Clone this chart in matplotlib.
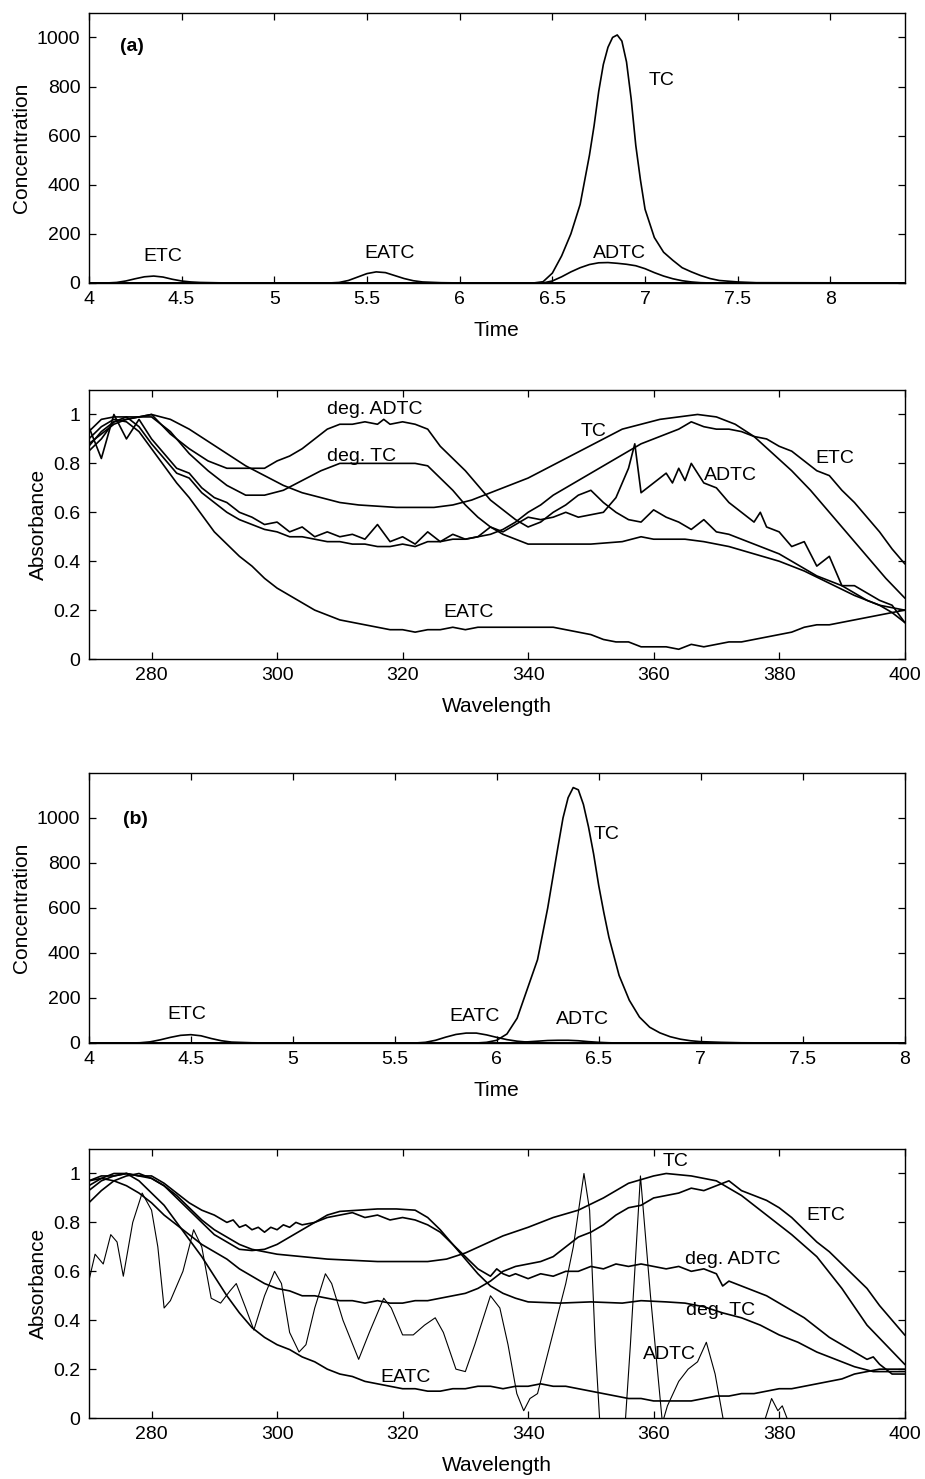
import numpy as np
import matplotlib
matplotlib.use("Agg")
import matplotlib.pyplot as plt
from matplotlib.ticker import FuncFormatter

plt.rcParams['font.family'] = ['Liberation Sans', 'DejaVu Sans']

# ---------------------------------------------------------------- (a) elution profiles
t_etc_a = [4.0, 4.1, 4.15, 4.2, 4.25, 4.3, 4.35, 4.4, 4.45, 4.5, 4.55, 4.6, 4.7, 4.8, 8.4]
c_etc_a = [0, 0, 2, 8, 17, 25, 28, 24, 15, 8, 4, 2, 0.5, 0, 0]
t_eatc_a = [4.0, 5.3, 5.35, 5.4, 5.45, 5.5, 5.55, 5.6, 5.65, 5.7, 5.75, 5.8, 5.9, 6.0, 8.4]
c_eatc_a = [0, 0, 2, 10, 24, 38, 45, 42, 30, 18, 9, 4, 1, 0, 0]
t_tc_a = [4.0, 6.4, 6.45, 6.5, 6.55, 6.6, 6.65, 6.7, 6.725, 6.75, 6.775, 6.8, 6.825, 6.85,
          6.875, 6.9, 6.925, 6.95, 6.975, 7.0, 7.05, 7.1, 7.15, 7.2, 7.25, 7.3, 7.35, 7.4,
          7.5, 7.6, 8.4]
c_tc_a = [0, 0, 5, 40, 110, 200, 320, 520, 640, 780, 890, 960, 1000, 1010,
          985, 900, 750, 560, 420, 300, 185, 125, 92, 62, 45, 30, 18, 10,
          4, 1, 0]
t_adtc_a = [4.0, 6.45, 6.5, 6.55, 6.6, 6.65, 6.7, 6.75, 6.8, 6.85, 6.9, 6.95, 7.0,
            7.05, 7.1, 7.15, 7.2, 7.25, 7.3, 7.35, 8.4]
c_adtc_a = [0, 0, 8, 25, 45, 62, 75, 82, 83, 80, 76, 70, 58,
            42, 28, 17, 9, 4, 1, 0, 0]

# ---------------------------------------------------------------- (a) spectra
wl_tc_a = [270, 272, 274, 276, 278, 280, 283, 286, 289, 292, 295, 298, 301, 304, 307, 310,
           313, 316, 319, 322, 325, 328, 331, 334, 337, 340, 343, 346, 349, 352, 355, 358,
           361, 364, 367, 370, 373, 376, 379, 382, 385, 388, 391, 394, 397, 400]
ab_tc_a = [0.88, 0.92, 0.96, 0.98, 0.99, 1.0, 0.98, 0.94, 0.89, 0.84, 0.79, 0.75, 0.71, 0.68,
           0.66, 0.64, 0.63, 0.625, 0.62, 0.62, 0.62, 0.63, 0.65, 0.68, 0.71, 0.74, 0.78, 0.82,
           0.86, 0.9, 0.94, 0.96, 0.98, 0.99, 1.0, 0.99, 0.96, 0.91, 0.84, 0.77, 0.69, 0.6,
           0.51, 0.42, 0.33, 0.25]

wl_etc_a = list(range(270, 402, 2))
ab_etc_a = [0.85, 0.9, 0.97, 0.99, 0.95, 0.88, 0.82, 0.76, 0.74, 0.68, 0.64, 0.6, 0.57, 0.55,
            0.53, 0.52, 0.5, 0.5, 0.49, 0.48, 0.48, 0.47, 0.47, 0.46, 0.46, 0.47, 0.46, 0.48,
            0.48, 0.49, 0.49, 0.5, 0.51, 0.53, 0.56, 0.6, 0.63, 0.67, 0.7, 0.73, 0.76, 0.79,
            0.82, 0.85, 0.88, 0.9, 0.92, 0.94, 0.97, 0.95, 0.94, 0.94, 0.93, 0.91, 0.9, 0.87,
            0.85, 0.81, 0.77, 0.75, 0.69, 0.64, 0.58, 0.52, 0.45, 0.39]

wl_adtc_a = [270, 272, 274, 276, 278, 280, 282, 284, 286, 288, 290, 292, 294, 296, 298, 300,
             302, 304, 306, 308, 310, 312, 314, 316, 318, 320, 322, 324, 326, 328, 330, 332,
             334, 336, 338, 340, 342, 344, 346, 348, 350, 352, 354, 356, 357, 358, 360, 362,
             363, 364, 365, 366, 368, 370, 372, 374, 376, 377, 378, 380, 382, 384, 386, 388,
             390, 392, 394, 396, 398, 400]
ab_adtc_a = [0.95, 0.82, 1.0, 0.9, 0.98, 0.9, 0.84, 0.78, 0.76, 0.7, 0.66, 0.64, 0.6, 0.58,
             0.55, 0.56, 0.52, 0.54, 0.5, 0.52, 0.5, 0.51, 0.49, 0.55, 0.48, 0.5, 0.47, 0.52,
             0.48, 0.51, 0.49, 0.5, 0.54, 0.52, 0.55, 0.58, 0.57, 0.58, 0.6, 0.58, 0.59, 0.6,
             0.66, 0.78, 0.88, 0.68, 0.72, 0.76, 0.72, 0.78, 0.73, 0.8, 0.72, 0.7, 0.64, 0.6,
             0.56, 0.6, 0.54, 0.52, 0.46, 0.48, 0.38, 0.42, 0.3, 0.3, 0.27, 0.24, 0.22, 0.15]

wl_dadtc_a = [270, 272, 274, 276, 278, 280, 283, 286, 289, 292, 296, 298, 300, 302, 304, 306,
              308, 310, 312, 314, 316, 317, 318, 320, 322, 324, 326, 328, 330, 332, 334, 336,
              338, 340, 342, 344, 346, 348, 350, 352, 354, 356, 358, 360, 362, 364, 366, 368,
              370, 372, 374, 376, 378, 380, 382, 384, 386, 388, 390, 392, 394, 396, 398, 400]
ab_dadtc_a = [0.93, 0.98, 0.99, 0.99, 0.99, 1.0, 0.92, 0.86, 0.81, 0.78, 0.78, 0.78, 0.81,
              0.83, 0.86, 0.9, 0.94, 0.96, 0.96, 0.97, 0.96, 0.98, 0.96, 0.97, 0.96, 0.94,
              0.87, 0.82, 0.77, 0.71, 0.65, 0.61, 0.57, 0.54, 0.56, 0.6, 0.63, 0.67, 0.69,
              0.64, 0.6, 0.57, 0.56, 0.61, 0.58, 0.56, 0.53, 0.57, 0.52, 0.51, 0.49, 0.47,
              0.45, 0.43, 0.4, 0.37, 0.34, 0.32, 0.3, 0.27, 0.24, 0.22, 0.19, 0.15]

wl_dtc_a = [270, 272, 274, 276, 278, 280, 283, 286, 289, 292, 295, 298, 301, 304, 307, 310,
            313, 316, 319, 322, 324, 326, 328, 330, 332, 334, 336, 338, 340, 345, 350, 355,
            358, 360, 365, 368, 372, 376, 380, 384, 388, 392, 396, 400]
ab_dtc_a = [0.87, 0.93, 0.97, 0.98, 0.99, 0.99, 0.93, 0.84, 0.77, 0.71, 0.67, 0.67, 0.69,
            0.73, 0.77, 0.8, 0.8, 0.8, 0.8, 0.8, 0.79, 0.74, 0.69, 0.63, 0.58, 0.54, 0.51,
            0.49, 0.47, 0.47, 0.47, 0.48, 0.5, 0.49, 0.49, 0.48, 0.46, 0.43, 0.4, 0.36, 0.31,
            0.26, 0.22, 0.2]

wl_eatc_a = list(range(270, 402, 2))
ab_eatc_a = [0.9, 0.95, 0.98, 0.97, 0.93, 0.86, 0.79, 0.72, 0.66, 0.59, 0.52, 0.47, 0.42,
             0.38, 0.33, 0.29, 0.26, 0.23, 0.2, 0.18, 0.16, 0.15, 0.14, 0.13, 0.12, 0.12,
             0.11, 0.12, 0.12, 0.13, 0.12, 0.13, 0.13, 0.13, 0.13, 0.13, 0.13, 0.13, 0.12,
             0.11, 0.1, 0.08, 0.07, 0.07, 0.05, 0.05, 0.05, 0.04, 0.06, 0.05, 0.06, 0.07,
             0.07, 0.08, 0.09, 0.1, 0.11, 0.13, 0.14, 0.14, 0.15, 0.16, 0.17, 0.18, 0.19, 0.2]

# ---------------------------------------------------------------- (b) elution profiles
t_etc_b = [4.0, 4.2, 4.25, 4.3, 4.35, 4.4, 4.45, 4.5, 4.55, 4.6, 4.65, 4.7, 4.8, 4.9, 8.0]
c_etc_b = [0, 0, 1, 5, 14, 25, 34, 37, 32, 20, 10, 4, 1, 0, 0]
t_eatc_b = [4.0, 5.6, 5.65, 5.7, 5.75, 5.8, 5.85, 5.9, 5.95, 6.0, 6.05, 6.1, 6.15, 6.2, 6.3, 8.0]
c_eatc_b = [0, 0, 3, 12, 26, 38, 44, 44, 36, 25, 15, 8, 4, 1, 0, 0]
t_tc_b = [4.0, 5.9, 5.95, 6.0, 6.05, 6.1, 6.15, 6.2, 6.25, 6.3, 6.325, 6.35, 6.375, 6.4,
          6.425, 6.45, 6.475, 6.5, 6.525, 6.55, 6.6, 6.65, 6.7, 6.75, 6.8, 6.85, 6.9, 6.95,
          7.0, 7.1, 7.2, 7.4, 8.0]
c_tc_b = [0, 0, 3, 12, 40, 110, 240, 370, 600, 870, 1000, 1090, 1135, 1125,
          1060, 960, 840, 700, 580, 470, 300, 190, 115, 70, 45, 28, 17, 10,
          6, 3, 1, 0, 0]
t_adtc_b = [4.0, 6.05, 6.1, 6.15, 6.2, 6.25, 6.3, 6.35, 6.4, 6.45, 6.5, 6.55, 6.6, 8.0]
c_adtc_b = [0, 0, 2, 5, 8, 11, 12, 12, 10, 6, 3, 1, 0, 0]

# ---------------------------------------------------------------- (b) spectra
wl_tc_b = [270, 272, 274, 276, 278, 280, 282, 284, 286, 288, 290, 292, 294, 296, 298, 300,
           304, 308, 312, 316, 320, 324, 327, 330, 333, 336, 340, 344, 348, 352, 356, 360,
           362, 366, 370, 374, 378, 382, 386, 390, 394, 397, 400]
ab_tc_b = [0.88, 0.93, 0.97, 0.99, 1.0, 0.98, 0.95, 0.91, 0.86, 0.81, 0.77, 0.74, 0.71, 0.69,
           0.68, 0.67, 0.66, 0.65, 0.645, 0.64, 0.64, 0.64, 0.65, 0.675, 0.71, 0.745, 0.78,
           0.82, 0.85, 0.9, 0.96, 0.99, 1.0, 0.99, 0.97, 0.91, 0.83, 0.75, 0.66, 0.53, 0.38,
           0.3, 0.22]

wl_etc_b = list(range(270, 402, 2))
ab_etc_b = [0.97, 0.98, 0.97, 0.95, 0.92, 0.88, 0.83, 0.79, 0.75, 0.71, 0.68, 0.65, 0.61,
            0.58, 0.55, 0.53, 0.52, 0.5, 0.5, 0.49, 0.48, 0.48, 0.47, 0.48, 0.47, 0.47, 0.48,
            0.48, 0.49, 0.5, 0.51, 0.53, 0.56, 0.6, 0.62, 0.63, 0.64, 0.66, 0.7, 0.74, 0.76,
            0.79, 0.83, 0.86, 0.87, 0.9, 0.91, 0.92, 0.94, 0.93, 0.95, 0.97, 0.93, 0.91, 0.89,
            0.86, 0.82, 0.77, 0.72, 0.68, 0.63, 0.58, 0.53, 0.46, 0.4, 0.34]

wl_dtc_b = [270, 272, 274, 276, 278, 280, 282, 284, 286, 288, 290, 292, 294, 296, 298, 300,
            302, 304, 306, 308, 310, 313, 316, 319, 322, 324, 326, 328, 330, 332, 334, 336,
            338, 340, 345, 350, 355, 358, 362, 365, 368, 371, 374, 377, 380, 383, 386, 389,
            392, 395, 398, 400]
ab_dtc_b = [0.95, 0.98, 1.0, 1.0, 0.99, 0.98, 0.95, 0.9, 0.85, 0.8, 0.75, 0.72, 0.69, 0.685,
            0.69, 0.71, 0.74, 0.77, 0.8, 0.83, 0.845, 0.85, 0.855, 0.855, 0.85, 0.82, 0.77,
            0.71, 0.65, 0.59, 0.54, 0.51, 0.49, 0.475, 0.47, 0.475, 0.47, 0.48, 0.475, 0.47,
            0.455, 0.43, 0.41, 0.38, 0.34, 0.31, 0.27, 0.24, 0.21, 0.19, 0.19, 0.19]

wl_dadtc_b = [270, 272, 274, 276, 278, 280, 282, 284, 286, 288, 290, 292, 293, 294, 295, 296,
              297, 298, 299, 300, 301, 302, 303, 304, 306, 308, 310, 312, 314, 316, 318, 320,
              322, 324, 326, 328, 330, 332, 334, 335, 336, 337, 338, 340, 342, 344, 346, 348,
              350, 352, 354, 356, 358, 360, 362, 364, 366, 368, 370, 371, 372, 374, 376, 378,
              380, 382, 384, 386, 388, 390, 392, 394, 395, 396, 398, 400]
ab_dadtc_b = [0.97, 0.99, 0.99, 1.0, 0.99, 0.99, 0.96, 0.92, 0.88, 0.85, 0.83, 0.8, 0.81,
              0.78, 0.79, 0.77, 0.78, 0.76, 0.78, 0.77, 0.79, 0.78, 0.8, 0.79, 0.8, 0.82,
              0.83, 0.84, 0.82, 0.83, 0.81, 0.82, 0.81, 0.79, 0.76, 0.71, 0.66, 0.61, 0.58,
              0.61, 0.59, 0.58, 0.59, 0.57, 0.59, 0.58, 0.6, 0.6, 0.62, 0.61, 0.63, 0.62, 0.63,
              0.62, 0.61, 0.62, 0.6, 0.61, 0.59, 0.54, 0.56, 0.54, 0.52, 0.5, 0.47, 0.44, 0.41,
              0.37, 0.33, 0.3, 0.27, 0.24, 0.25, 0.22, 0.18, 0.18]

wl_eatc_b = list(range(270, 402, 2))
ab_eatc_b = [0.93, 0.97, 0.99, 1.0, 0.97, 0.92, 0.87, 0.8, 0.73, 0.66, 0.58, 0.5, 0.43, 0.37,
             0.33, 0.3, 0.28, 0.25, 0.23, 0.2, 0.18, 0.17, 0.15, 0.14, 0.13, 0.12, 0.12, 0.11,
             0.11, 0.12, 0.12, 0.13, 0.13, 0.12, 0.13, 0.13, 0.14, 0.13, 0.13, 0.12, 0.11,
             0.1, 0.09, 0.08, 0.08, 0.07, 0.07, 0.07, 0.07, 0.08, 0.09, 0.09, 0.1, 0.1, 0.11,
             0.12, 0.12, 0.13, 0.14, 0.15, 0.16, 0.18, 0.19, 0.2, 0.2, 0.2]

wl_adtc_b = [270, 271, 272.3, 273.5, 274.5, 275.5, 277, 278.5, 280, 281, 282, 283, 285, 286.7,
             288, 289.5, 291, 292.5, 293.5, 295, 296.3, 298, 299.6, 300.7, 302, 303.5, 304.6,
             306, 307.7, 308.7, 310.5, 313, 314.7, 317, 318.2, 320, 321.7, 323.5, 325.2, 326.5,
             328.5, 330, 331.5, 334, 335.5, 336.8, 338.2, 339.3, 340.3, 341.5, 343, 344.5, 346,
             347.2, 348.9, 349.8, 350.7, 351.5, 355.4, 356.3, 357.9, 359.5, 361.4, 362.2, 364,
             365.5, 367, 368.4, 369.8, 371.4, 377.2, 378.8, 379.8, 380.5, 382, 400]
ab_adtc_b = [0.56, 0.67, 0.63, 0.75, 0.72, 0.58, 0.8, 0.92, 0.85, 0.7, 0.45, 0.48, 0.6, 0.77,
             0.7, 0.49, 0.47, 0.52, 0.55, 0.45, 0.36, 0.5, 0.6, 0.55, 0.35, 0.27, 0.3, 0.45,
             0.59, 0.55, 0.4, 0.24, 0.35, 0.49, 0.45, 0.34, 0.34, 0.38, 0.41, 0.35, 0.2, 0.19,
             0.3, 0.5, 0.45, 0.3, 0.1, 0.03, 0.08, 0.1, 0.25, 0.4, 0.55, 0.7, 1.0, 0.85, 0.3,
             -0.05, -0.05, 0.3, 0.99, 0.5, -0.02, 0.05, 0.15, 0.2, 0.23, 0.31, 0.18, -0.05,
             -0.05, 0.08, 0.03, 0.05, -0.05, -0.05]

# ---------------------------------------------------------------- figure
fig = plt.figure(figsize=(9.25, 14.79), dpi=100)
L, W = 0.096, 0.882
ax1 = fig.add_axes([L, 0.8087, W, 0.1826])
ax2 = fig.add_axes([L, 0.5544, W, 0.1819])
ax3 = fig.add_axes([L, 0.2948, W, 0.1826])
ax4 = fig.add_axes([L, 0.0412, W, 0.1819])

FS = 14
lw = 1.2
fmt = FuncFormatter(lambda v, p: "%g" % v)

def style(ax):
    ax.tick_params(direction="in", top=True, right=True, length=5, width=0.9,
                   labelsize=FS, pad=6)
    for s in ax.spines.values():
        s.set_linewidth(1.0)

def txt(ax, x, y, s, **kw):
    ax.text(x, y, s, fontsize=FS, ha="center", va="center", **kw)

# (a) concentration
for t, c in [(t_etc_a, c_etc_a), (t_eatc_a, c_eatc_a), (t_tc_a, c_tc_a), (t_adtc_a, c_adtc_a)]:
    ax1.plot(t, c, color="black", lw=lw)
ax1.set_xlim(4, 8.4)
ax1.set_ylim(0, 1100)
ax1.set_xticks([4, 4.5, 5, 5.5, 6, 6.5, 7, 7.5, 8])
ax1.set_yticks([0, 200, 400, 600, 800, 1000])
ax1.xaxis.set_major_formatter(fmt)
ax1.set_xlabel("Time", fontsize=FS + 1, labelpad=9)
ax1.set_ylabel("Concentration", fontsize=FS + 1, labelpad=4)
txt(ax1, 4.23, 965, "(a)", fontweight="bold")
txt(ax1, 7.09, 825, "TC")
txt(ax1, 4.4, 107, "ETC")
txt(ax1, 5.62, 121, "EATC")
txt(ax1, 6.86, 121, "ADTC")
style(ax1)

# (a) absorbance
for w, a in [(wl_tc_a, ab_tc_a), (wl_etc_a, ab_etc_a), (wl_adtc_a, ab_adtc_a),
             (wl_dadtc_a, ab_dadtc_a), (wl_dtc_a, ab_dtc_a), (wl_eatc_a, ab_eatc_a)]:
    ax2.plot(w, a, color="black", lw=lw)
ax2.set_xlim(270, 400)
ax2.set_ylim(0, 1.1)
ax2.set_xticks(range(280, 401, 20))
ax2.set_yticks([0, 0.2, 0.4, 0.6, 0.8, 1.0])
ax2.yaxis.set_major_formatter(fmt)
ax2.set_xlabel("Wavelength", fontsize=FS + 1, labelpad=9)
ax2.set_ylabel("Absorbance", fontsize=FS + 1, labelpad=4)
txt(ax2, 315.5, 1.02, "deg. ADTC")
txt(ax2, 313.5, 0.83, "deg. TC")
txt(ax2, 350.5, 0.93, "TC")
txt(ax2, 388.8, 0.82, "ETC")
txt(ax2, 372.3, 0.75, "ADTC")
txt(ax2, 330.5, 0.19, "EATC")
style(ax2)

# (b) concentration
for t, c in [(t_etc_b, c_etc_b), (t_eatc_b, c_eatc_b), (t_tc_b, c_tc_b), (t_adtc_b, c_adtc_b)]:
    ax3.plot(t, c, color="black", lw=lw)
ax3.set_xlim(4, 8)
ax3.set_ylim(0, 1200)
ax3.set_xticks([4, 4.5, 5, 5.5, 6, 6.5, 7, 7.5, 8])
ax3.set_yticks([0, 200, 400, 600, 800, 1000])
ax3.xaxis.set_major_formatter(fmt)
ax3.set_xlabel("Time", fontsize=FS + 1, labelpad=9)
ax3.set_ylabel("Concentration", fontsize=FS + 1, labelpad=4)
txt(ax3, 4.23, 993, "(b)", fontweight="bold")
txt(ax3, 6.54, 925, "TC")
txt(ax3, 4.48, 127, "ETC")
txt(ax3, 5.89, 119, "EATC")
txt(ax3, 6.42, 104, "ADTC")
style(ax3)

# (b) absorbance
for w, a in [(wl_tc_b, ab_tc_b), (wl_etc_b, ab_etc_b), (wl_dtc_b, ab_dtc_b),
             (wl_dadtc_b, ab_dadtc_b), (wl_eatc_b, ab_eatc_b)]:
    ax4.plot(w, a, color="black", lw=lw)
ax4.plot(wl_adtc_b, ab_adtc_b, color="black", lw=0.8)
ax4.set_xlim(270, 400)
ax4.set_ylim(0, 1.1)
ax4.set_xticks(range(280, 401, 20))
ax4.set_yticks([0, 0.2, 0.4, 0.6, 0.8, 1.0])
ax4.yaxis.set_major_formatter(fmt)
ax4.set_xlabel("Wavelength", fontsize=FS + 1, labelpad=9)
ax4.set_ylabel("Absorbance", fontsize=FS + 1, labelpad=4)
txt(ax4, 363.5, 1.05, "TC")
txt(ax4, 387.5, 0.83, "ETC")
txt(ax4, 372.6, 0.65, "deg. ADTC")
txt(ax4, 370.6, 0.44, "deg. TC")
txt(ax4, 362.5, 0.26, "ADTC")
txt(ax4, 320.5, 0.165, "EATC")
style(ax4)

fig.savefig("out.png", dpi=100)
